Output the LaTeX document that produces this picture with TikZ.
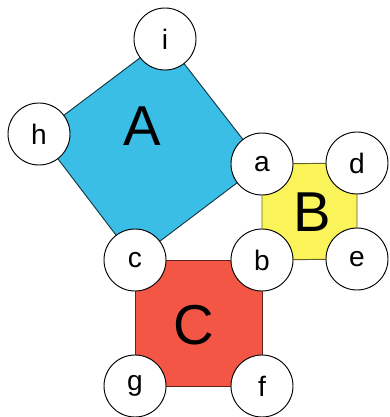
\documentclass[tikz,border=0pt]{standalone}
\usepackage{fontspec}
\setmainfont{Liberation Sans}
\usepackage{tikz}
\usetikzlibrary{backgrounds}

\definecolor{sqblue}{RGB}{58,190,230}
\definecolor{sqyellow}{RGB}{250,244,90}
\definecolor{sqred}{RGB}{244,86,70}

\begin{document}
\begin{tikzpicture}[
  x=0.03cm, y=-0.03cm,
  corner/.style={circle, draw, fill=white, line width=0.8pt, minimum size=1.86cm, inner sep=0pt, font=\fontsize{24}{24}\selectfont},
  sq/.style={line width=0.8pt, line join=miter},
  big/.style={font=\fontsize{48}{48}\selectfont}
  ]
  \useasboundingbox (0,0) rectangle (389,417);

  % Corners of the right triangle
  \node[corner] (b) at (262,260) {b};
  \node[corner] (c) at (135,260) {c};
  \node[corner] (a) at (262,164) {a};

  % Square B corners
  \node[corner] (d) at (357,163) {d};
  \node[corner] (e) at (357,259) {e};

  % Square C corners
  \node[corner] (f) at (262,386) {f};
  \node[corner] (g) at (135,386) {g};

  % Square A corners
  \node[corner] (h) at (39,134) {h};
  \node[corner] (i) at (165,39) {i};

  % Squares
  \begin{pgfonlayer}{background}
    \filldraw[sq, fill=sqblue, draw=black!70!sqblue] (i.center) -- (h.center) -- (c.center) -- (a.center) -- cycle;
    \filldraw[sq, fill=sqyellow, draw=black!60!sqyellow] (a.center) -- (d.center) -- (e.center) -- (b.center) -- cycle;
    \filldraw[sq, fill=sqred, draw=black!60!sqred] (c.center) -- (b.center) -- (f.center) -- (g.center) -- cycle;
  \end{pgfonlayer}

  % Labels
  \node[big] (lA) at (142,126) {A};
  \node[big] (lB) at (312,212) {B};
  \node[big] (lC) at (194,325) {C};
\end{tikzpicture}
\end{document}
